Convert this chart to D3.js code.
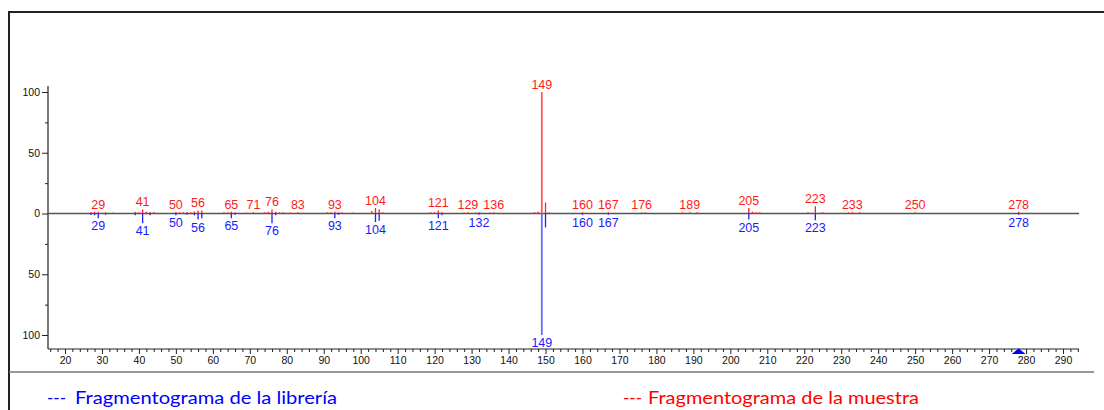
<!DOCTYPE html>
<html>
<head>
<meta charset="utf-8">
<script src="https://cdn.jsdelivr.net/npm/d3@7"></script>
<style>
  body { margin: 0; background: #fff; }
  svg { display: block; }
</style>
</head>
<body>
<svg id="chart"></svg>
<script>
// sample spectrum (red, drawn upward) - m/z and relative intensity %
const sampleMz = [27, 28, 29, 31, 33, 39, 40, 41, 42, 43, 44, 50, 51, 52, 53, 54, 55, 56, 57, 63, 64, 65, 66, 69, 71,
	74, 75, 76, 77, 78, 79, 81, 83, 91, 92, 93, 94, 95, 98, 103, 104, 105, 106, 119, 120, 121, 122, 128, 129, 131,
	132, 135, 136, 147, 148, 149, 150, 151, 160, 167, 176, 177, 187, 189, 191, 205, 206, 207, 208, 221, 223, 225,
	232, 233, 235, 250, 278];
const sampleInt = [1.2, 1.5, 1.5, 1, 0.8, 1.5, 1, 3.3, 1.5, 1.2, 1, 1.2, 1, 1, 1.2, 1, 1.5, 2.5, 2.5, 1, 1, 1.5, 1, 0.8, 1,
	1, 1.5, 3.3, 1.5, 1, 1, 0.8, 1, 1, 1, 1.5, 1, 1, 0.8, 2, 4.5, 3.5, 1, 1, 1, 2.5, 1, 0.8, 1, 0.8,
	1, 0.8, 1, 1, 1.5, 100, 9, 1, 1, 1, 1, 1, 1, 1, 1, 4.5, 1.5, 1, 1, 1, 6, 1,
	1, 1, 1, 1, 1.5];

// library spectrum (blue, drawn downward)
const libraryMz = [27, 28, 29, 31, 39, 41, 43, 50, 53, 55, 56, 57, 65, 66, 76, 77, 93, 94, 104, 105, 121, 122, 132,
	149, 150, 160, 167, 205, 223, 278];
const libraryInt = [1.2, 1.5, 4, 1, 1.5, 8, 1.5, 1.5, 1, 1.5, 5, 4, 4, 1, 8, 1.5, 4, 1, 7, 6, 4, 1.5, 1,
	100, 11.5, 1, 1, 5, 5.5, 1];

const sampleLabels = [29, 41, 50, 56, 65, 71, 76, 83, 93, 104, 121, 129, 136, 149, 160, 167, 176, 189, 205, 223, 233, 250, 278];
const libraryLabels = [29, 41, 50, 56, 65, 76, 93, 104, 121, 132, 149, 160, 167, 205, 223, 278];

const xTicks = [20, 30, 40, 50, 60, 70, 80, 90, 100, 110, 120, 130, 140, 150, 160, 170, 180, 190, 200, 210, 220, 230,
	240, 250, 260, 270, 280, 290];
const yTicks = [-100, -50, 0, 50, 100];
const yMinorTicks = [-75, -25, 25, 75];
const markerMz = 278;

drawChart = () => {
	let svgWidth = 1104,
		svgHeight = 410;
	let svg = d3.select('#chart').attr('width', svgWidth).attr('height', svgHeight);
	let tickFont = '"Liberation Sans", Arial, sans-serif';

	// frame
	svg.append('line').attr('x1', 9).attr('x2', 1104).attr('y1', 12).attr('y2', 12)
		.attr('stroke', '#222').attr('stroke-width', 2);
	svg.append('line').attr('x1', 9).attr('x2', 9).attr('y1', 11).attr('y2', 410)
		.attr('stroke', '#222').attr('stroke-width', 2);
	svg.append('line').attr('x1', 9).attr('x2', 1094).attr('y1', 372).attr('y2', 372)
		.attr('stroke', '#777').attr('stroke-width', 1.5);

	let x = d3.scaleLinear().domain([20, 290]).range([65, 1063]);
	let y = d3.scaleLinear().domain([-100, 100]).range([335, 92]);
	let axisY = 349,
		axisX = 48;

	// x axis
	let xMinor = [];
	for (let v = 16; v <= 294; v += 2) if (v % 10 !== 0) xMinor.push(v);
	let gx = svg.append('g').attr('transform', 'translate(0,' + axisY + ')');
	gx.call(d3.axisBottom(x).tickValues(xTicks).tickSize(5).tickPadding(3).tickSizeOuter(0))
		.select('.domain').remove();
	gx.append('g').call(d3.axisBottom(x).tickValues(xMinor).tickSize(3).tickFormat('').tickSizeOuter(0))
		.select('.domain').remove();
	gx.selectAll('text').attr('font-family', tickFont).attr('font-size', 10.5).attr('fill', '#111');
	gx.selectAll('line').attr('stroke', '#222');
	svg.append('line').attr('x1', axisX).attr('x2', 1079).attr('y1', axisY).attr('y2', axisY)
		.attr('stroke', '#222').attr('stroke-width', 1.2);

	// y axis
	let gy = svg.append('g').attr('transform', 'translate(' + axisX + ',0)');
	gy.call(d3.axisLeft(y).tickValues(yTicks).tickSize(6).tickPadding(2).tickFormat((d) => Math.abs(d)))
		.select('.domain').remove();
	gy.append('g').call(d3.axisLeft(y).tickValues(yMinorTicks).tickSize(3).tickFormat(''))
		.select('.domain').remove();
	gy.selectAll('text').attr('font-family', tickFont).attr('font-size', 10.5).attr('fill', '#111');
	gy.selectAll('line').attr('stroke', '#222');
	svg.append('line').attr('x1', axisX).attr('x2', axisX).attr('y1', 86).attr('y2', axisY)
		.attr('stroke', '#222').attr('stroke-width', 1.2);

	// zero line
	svg.append('line').attr('x1', axisX).attr('x2', 1079).attr('y1', y(0)).attr('y2', y(0))
		.attr('stroke', '#555').attr('stroke-width', 1.3);

	let sample = sampleMz.map((m, i) => ({ mz: m, v: sampleInt[i] }));
	let library = libraryMz.map((m, i) => ({ mz: m, v: libraryInt[i] }));

	svg.append('g').selectAll('line').data(sample).join('line')
		.attr('x1', (d) => x(d.mz)).attr('x2', (d) => x(d.mz))
		.attr('y1', y(0)).attr('y2', (d) => y(d.v))
		.attr('stroke', (d) => (d.v > 50 ? '#ff5a5a' : '#ff2020'))
		.attr('stroke-width', (d) => (d.v > 50 ? 1.8 : 1.3));

	svg.append('g').selectAll('line').data(library).join('line')
		.attr('x1', (d) => x(d.mz)).attr('x2', (d) => x(d.mz))
		.attr('y1', y(0)).attr('y2', (d) => y(-d.v))
		.attr('stroke', (d) => (d.v > 50 ? '#6a6aff' : '#2020ff'))
		.attr('stroke-width', (d) => (d.v > 50 ? 1.8 : 1.3));

	let sampleMap = new Map(sample.map((d) => [d.mz, d.v]));
	let libraryMap = new Map(library.map((d) => [d.mz, d.v]));

	svg.append('g').selectAll('text').data(sampleLabels).join('text')
		.attr('x', (d) => x(d)).attr('y', (d) => y(sampleMap.get(d) || 1) - 3)
		.attr('text-anchor', 'middle').attr('font-family', tickFont).attr('font-size', 12.5)
		.attr('fill', '#ff1a1a').text((d) => d);

	svg.append('g').selectAll('text').data(libraryLabels).join('text')
		.attr('x', (d) => x(d)).attr('y', (d) => y(-(libraryMap.get(d) || 1)) + 12)
		.attr('text-anchor', 'middle').attr('font-family', tickFont).attr('font-size', 12.5)
		.attr('fill', '#1a1aff').text((d) => d);

	// marker triangle on x axis
	let mx = x(markerMz);
	svg.append('path')
		.attr('d', 'M' + mx + ',' + (axisY - 0.5) + 'L' + (mx + 7) + ',' + (axisY + 5) + 'L' + (mx - 7) + ',' + (axisY + 5) + 'Z')
		.attr('fill', '#0000ff');

	// legend
	let legendFont = 'Lato, "Open Sans", sans-serif';
	let legend = [
		{ dash: '---', dx: 47, tx: 75, w: 262, label: 'Fragmentograma de la librería', color: '#0000ff' },
		{ dash: '---', dx: 623, tx: 648, w: 271, label: 'Fragmentograma de la muestra', color: '#ff0000' }
	];
	legend.forEach((l) => {
		svg.append('text').attr('x', l.dx).attr('y', 404).attr('font-family', legendFont).attr('font-size', 17)
			.attr('fill', l.color).text(l.dash);
		svg.append('text').attr('x', l.tx).attr('y', 404).attr('font-family', legendFont).attr('font-size', 17)
			.attr('fill', l.color).attr('textLength', l.w).attr('lengthAdjust', 'spacingAndGlyphs').text(l.label);
	});
};

drawChart();
</script>
</body>
</html>
